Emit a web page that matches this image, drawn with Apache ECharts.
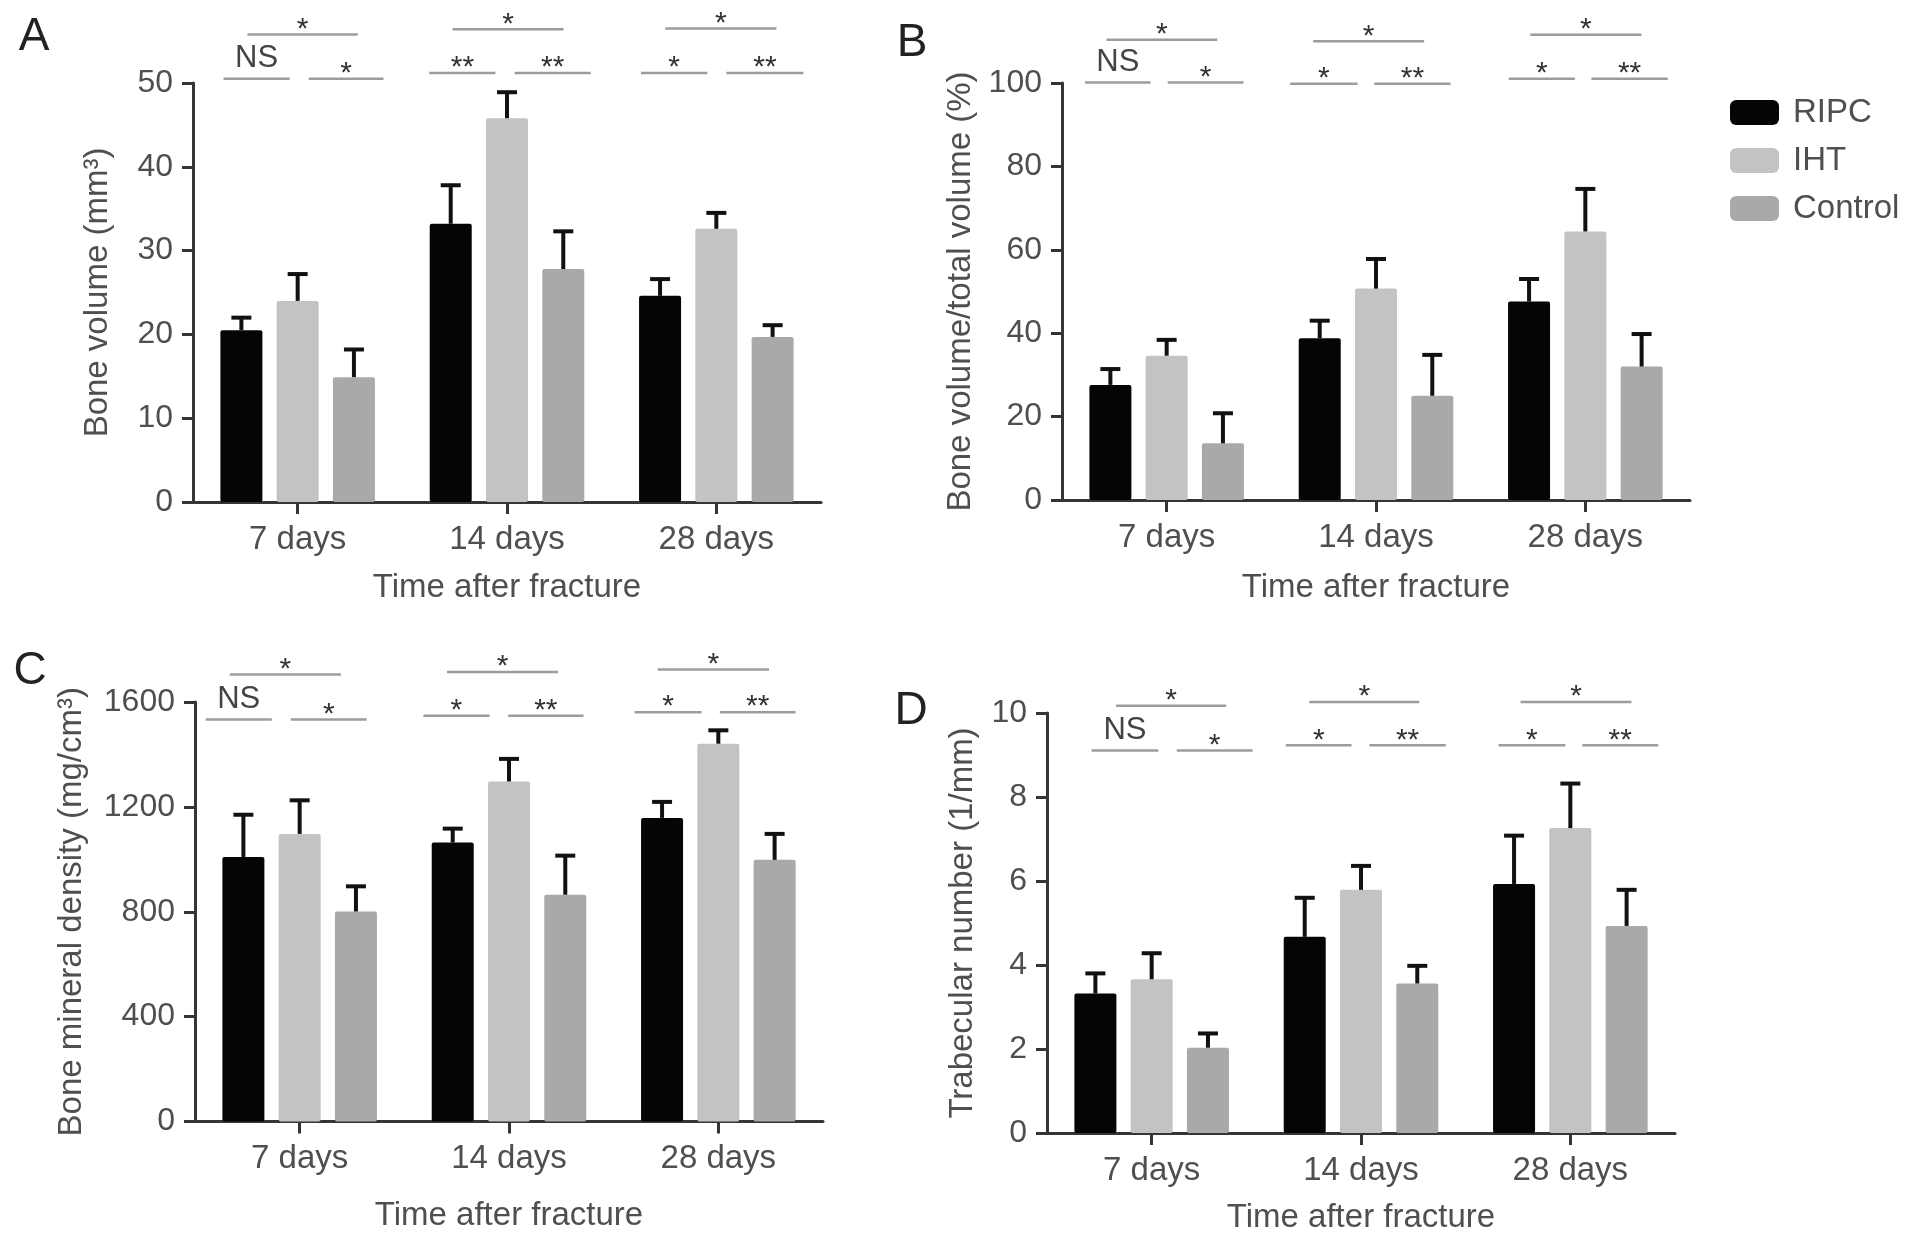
<!DOCTYPE html>
<html>
<head>
<meta charset="utf-8">
<script src="https://cdn.jsdelivr.net/npm/echarts@6/dist/echarts.min.js"></script>
<style>
html,body{margin:0;padding:0;background:#fff;}
#chart{width:1913px;height:1243px;}
</style>
</head>
<body>
<div id="chart"></div>
<script>
// ---------- data ----------
const CATEGORIES = ['7 days', '14 days', '28 days'];
const GROUPS = ['RIPC', 'IHT', 'Control'];

// Panel A: Bone volume (mm3)
const A_RIPC = [20.5, 33.2, 24.6];
const A_RIPC_SD = [1.5, 4.6, 2.0];
const A_IHT = [24.0, 45.8, 32.6];
const A_IHT_SD = [3.2, 3.1, 1.9];
const A_CTRL = [14.9, 27.8, 19.7];
const A_CTRL_SD = [3.3, 4.5, 1.4];
const A_AXIS = [0, 50, 10];

// Panel B: Bone volume/total volume (%)
const B_RIPC = [27.6, 38.8, 47.6];
const B_RIPC_SD = [3.8, 4.2, 5.4];
const B_IHT = [34.6, 50.7, 64.4];
const B_IHT_SD = [3.8, 7.1, 10.2];
const B_CTRL = [13.6, 25.0, 32.0];
const B_CTRL_SD = [7.2, 9.8, 7.8];
const B_AXIS = [0, 100, 20];

// Panel C: Bone mineral density (mg/cm3)
const C_RIPC = [1009, 1064, 1158];
const C_RIPC_SD = [161, 53, 61];
const C_IHT = [1097, 1297, 1441];
const C_IHT_SD = [128, 86, 51];
const C_CTRL = [801, 865, 998];
const C_CTRL_SD = [96, 149, 99];
const C_AXIS = [0, 1600, 400];

// Panel D: Trabecular number (1/mm)
const D_RIPC = [3.32, 4.67, 5.93];
const D_RIPC_SD = [0.48, 0.93, 1.15];
const D_IHT = [3.66, 5.79, 7.26];
const D_IHT_SD = [0.62, 0.57, 1.06];
const D_CTRL = [2.03, 3.56, 4.93];
const D_CTRL_SD = [0.34, 0.42, 0.86];
const D_AXIS = [0, 10, 2];

// Significance annotations: [category, from (cat units), to (cat units), level (data units)]
const A_SIG = [[0,-0.354,-0.038,50.5],[0,0.053,0.41,50.5],[0,-0.24,0.287,55.8],
               [1,-0.371,-0.055,51.2],[1,0.036,0.40,51.2],[1,-0.26,0.27,56.4],
               [2,-0.36,-0.043,51.2],[2,0.048,0.416,51.2],[2,-0.244,0.287,56.5]];
const A_SIG_LABELS = ['NS','*','*','**','**','*','*','**','*'];
const B_SIG = [[0,-0.39,-0.077,100.1],[0,0.005,0.367,100.1],[0,-0.287,0.242,110.4],
               [1,-0.41,-0.088,99.8],[1,-0.008,0.356,99.8],[1,-0.30,0.23,110.0],
               [2,-0.366,-0.05,101.0],[2,0.029,0.394,101.0],[2,-0.263,0.268,111.6]];
const B_SIG_LABELS = ['NS','*','*','*','**','*','*','**','*'];
const C_SIG = [[0,-0.449,-0.133,1533],[0,-0.042,0.32,1533],[0,-0.334,0.197,1705],
               [1,-0.409,-0.093,1548],[1,-0.004,0.356,1548],[1,-0.296,0.234,1714],
               [2,-0.40,-0.08,1561],[2,0.007,0.369,1561],[2,-0.29,0.242,1724]];
const C_SIG_LABELS = ['NS','*','*','*','**','*','*','**','*'];
const D_SIG = [[0,-0.287,0.032,9.11],[0,0.12,0.482,9.11],[0,-0.17,0.356,10.17],
               [1,-0.359,-0.045,9.23],[1,0.04,0.405,9.23],[1,-0.247,0.279,10.26],
               [2,-0.343,-0.024,9.23],[2,0.057,0.42,9.23],[2,-0.238,0.292,10.26]];
const D_SIG_LABELS = ['NS','*','*','*','**','*','*','**','*'];

// ---------- style ----------
const FONT = '"Liberation Sans", Arial, Helvetica, sans-serif';
const COLORS = ['#050505', '#c3c3c3', '#a9a9a9'];
const TEXT = '#4f4f4f';
const AXIS_COLOR = '#353535';
const BAR_W = 42;
const BAR_GAP = 0.34;
const BAR_STEP = BAR_W * (1 + BAR_GAP);

const PANELS = [
  { letter:'A', grid:{left:193, top:83, width:628, height:419}, axis:A_AXIS,
    yName:'Bone volume (mm³)', yGap:95, xGap:86,
    means:[A_RIPC, A_IHT, A_CTRL], sds:[A_RIPC_SD, A_IHT_SD, A_CTRL_SD],
    sig:A_SIG, sigLabels:A_SIG_LABELS, letterPos:[34,37] },
  { letter:'B', grid:{left:1062, top:83, width:628, height:417}, axis:B_AXIS,
    yName:'Bone volume/total volume (%)', yGap:101, xGap:88,
    means:[B_RIPC, B_IHT, B_CTRL], sds:[B_RIPC_SD, B_IHT_SD, B_CTRL_SD],
    sig:B_SIG, sigLabels:B_SIG_LABELS, letterPos:[912,43] },
  { letter:'C', grid:{left:195, top:702, width:628, height:419.5}, axis:C_AXIS,
    yName:'Bone mineral density (mg/cm³)', yGap:123, xGap:94,
    means:[C_RIPC, C_IHT, C_CTRL], sds:[C_RIPC_SD, C_IHT_SD, C_CTRL_SD],
    sig:C_SIG, sigLabels:C_SIG_LABELS, letterPos:[30,671] },
  { letter:'D', grid:{left:1047, top:713, width:628, height:420}, axis:D_AXIS,
    yName:'Trabecular number (1/mm)', yGap:84, xGap:85,
    means:[D_RIPC, D_IHT, D_CTRL], sds:[D_RIPC_SD, D_IHT_SD, D_CTRL_SD],
    sig:D_SIG, sigLabels:D_SIG_LABELS, letterPos:[911,711] }
];

function errorRender(params, api) {
  const cat = api.value(0), m = api.value(1), sd = api.value(2), g = api.value(3);
  const b = api.coord([cat, m]);
  const t = api.coord([cat, m + sd]);
  const x = b[0] + (g - 1) * BAR_STEP;
  const st = { stroke: '#111', lineWidth: 4 };
  return { type: 'group', children: [
    { type: 'line', shape: { x1: x, y1: b[1], x2: x, y2: t[1] }, style: st },
    { type: 'line', shape: { x1: x - 10, y1: t[1], x2: x + 10, y2: t[1] }, style: st }
  ]};
}

function sigRender(labels) {
  return function (params, api) {
    const cat = api.value(0), f = api.value(1), to = api.value(2), y = api.value(3);
    const p = api.coord([cat, y]);
    const bw = api.size([1, 0], [cat, y])[0];
    const xa = p[0] + f * bw, xb = p[0] + to * bw;
    const lab = labels[params.dataIndex];
    const ns = lab === 'NS';
    return { type: 'group', children: [
      { type: 'line', shape: { x1: xa, y1: p[1], x2: xb, y2: p[1] },
        style: { stroke: '#9c9c9c', lineWidth: 2.5 } },
      { type: 'text', style: { text: lab, x: (xa + xb) / 2, y: p[1] - (ns ? 20 : 5),
        align: 'center', verticalAlign: 'middle', fontSize: ns ? 31 : 30,
        fill: ns ? '#444' : '#333', fontFamily: FONT } }
    ]};
  };
}

const grids = [], xAxes = [], yAxes = [], series = [], graphics = [];
PANELS.forEach(function (pn, i) {
  grids.push(Object.assign({ containLabel: false, outerBoundsMode: 'none' }, pn.grid));
  xAxes.push({
    type: 'category', gridIndex: i, data: CATEGORIES,
    axisLine: { show: true, lineStyle: { color: AXIS_COLOR, width: 3 } },
    axisTick: { show: true, alignWithLabel: true, length: 12, lineStyle: { color: AXIS_COLOR, width: 3 } },
    axisLabel: { fontSize: 33, color: TEXT, margin: 21, fontFamily: FONT },
    name: 'Time after fracture', nameLocation: 'middle', nameGap: pn.xGap,
    nameTextStyle: { fontSize: 33, color: TEXT, fontFamily: FONT, verticalAlign: 'middle' },
    splitLine: { show: false }
  });
  yAxes.push({
    type: 'value', gridIndex: i, min: pn.axis[0], max: pn.axis[1], interval: pn.axis[2],
    axisLine: { show: true, lineStyle: { color: AXIS_COLOR, width: 3 } },
    axisTick: { show: true, length: 11, lineStyle: { color: AXIS_COLOR, width: 3 } },
    axisLabel: { fontSize: 32, color: TEXT, margin: 20, fontFamily: FONT,
      formatter: function (v) { return String(v); } },
    splitLine: { show: false },
    name: pn.yName, nameLocation: 'middle', nameGap: pn.yGap,
    nameTextStyle: { fontSize: 33, color: TEXT, fontFamily: FONT, verticalAlign: 'middle' }
  });
  GROUPS.forEach(function (g, gi) {
    series.push({
      type: 'bar', name: g, xAxisIndex: i, yAxisIndex: i, data: pn.means[gi],
      barWidth: BAR_W, barGap: (BAR_GAP * 100) + '%',
      itemStyle: { color: COLORS[gi], borderRadius: 2 }, silent: true, z: 2
    });
  });
  const err = [];
  GROUPS.forEach(function (g, gi) {
    pn.means[gi].forEach(function (m, ci) { err.push([ci, m, pn.sds[gi][ci], gi]); });
  });
  series.push({ type: 'custom', xAxisIndex: i, yAxisIndex: i, data: err,
    encode: { x: 0, y: 1 }, renderItem: errorRender, clip: false, silent: true, z: 4 });
  series.push({ type: 'custom', xAxisIndex: i, yAxisIndex: i, data: pn.sig,
    encode: { x: 0, y: 3 }, renderItem: sigRender(pn.sigLabels), clip: false, silent: true, z: 4 });
  graphics.push({ type: 'text', x: pn.letterPos[0], y: pn.letterPos[1],
    style: { text: pn.letter, fontSize: 46, fill: '#222', fontFamily: FONT,
      align: 'center', verticalAlign: 'middle' } });
});

const chart = echarts.init(document.getElementById('chart'), null, { renderer: 'canvas' });
chart.setOption({
  backgroundColor: '#ffffff',
  animation: false,
  textStyle: { fontFamily: FONT },
  grid: grids, xAxis: xAxes, yAxis: yAxes, series: series, graphic: graphics,
  legend: {
    data: GROUPS, orient: 'vertical', left: 1730, top: 96, padding: 0,
    itemWidth: 49, itemHeight: 25, itemGap: 15, icon: 'roundRect', selectedMode: false,
    textStyle: { fontSize: 33, color: TEXT, fontFamily: FONT, padding: [0, 0, 0, 9] }
  }
});
</script>
</body>
</html>
